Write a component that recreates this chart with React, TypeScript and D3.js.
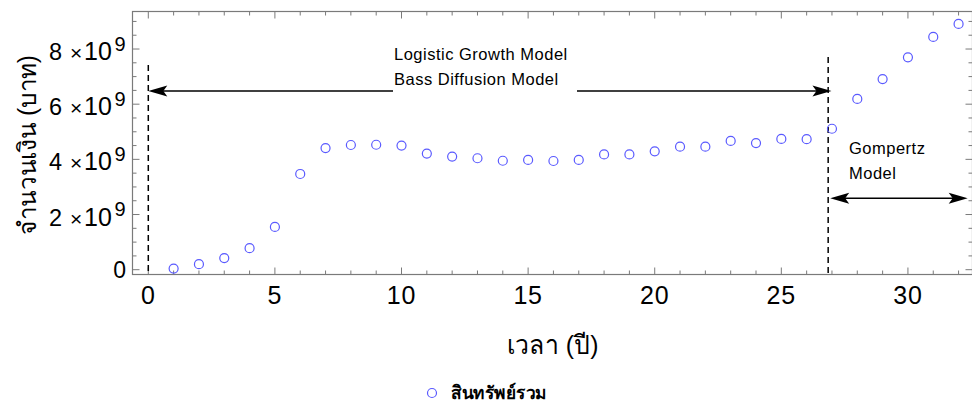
import React from 'react';
import * as d3 from 'd3';

// ---- data ----
const years = [1, 2, 3, 4, 5, 6, 7, 8, 9, 10, 11, 12, 13, 14, 15, 16, 17, 18, 19, 20, 21, 22, 23, 24, 25, 26, 27, 28, 29, 30, 31, 32];
// total assets, in units of 10^9 baht
const totalAssets = [0.04, 0.2, 0.42, 0.78, 1.55, 3.47, 4.41, 4.52, 4.53, 4.5, 4.21, 4.1, 4.04, 3.95, 3.98, 3.94, 3.98, 4.18, 4.18, 4.29, 4.46, 4.46, 4.67, 4.59, 4.74, 4.73, 5.11, 6.19, 6.91, 7.7, 8.44, 8.91];
const xTicks = [0, 5, 10, 15, 20, 25, 30];
const yTicks = [0, 2, 4, 6, 8];
const seriesName = 'สินทรัพย์รวม';
const xLabel = 'เวลา (ปี)';
const yLabel = 'จำนวนเงิน (บาท)';
const topModelLabels = ['Logistic Growth Model', 'Bass Diffusion Model'];
const rightModelLabels = ['Gompertz', 'Model'];
const boundaries = [0, 26.85];
const boundaryTops = [7.42, 7.71];

const W = 972;
const H = 402;
const L = 132.5, R = 972.5, T = 11.5, B = 274.5;
const FONT = '"Liberation Sans", Arial, sans-serif';

function arrowHead(x: number, y: number, dir: number) {
  const len = 19, half = 5.5, notch = 4;
  return `M${x},${y} L${x - dir * len},${y - half} L${x - dir * (len - notch)},${y} L${x - dir * len},${y + half} Z`;
}

export default function App() {
  const x = d3.scaleLinear().domain([-0.624, 32.55]).range([L, R]);
  const y = d3.scaleLinear().domain([-0.174, 9.36]).range([B, T]);
  const xMinor = d3.range(0, 33, 1);
  const yMinor = d3.range(0, 9.5, 0.5);
  const frame = '#7a7a7a';

  const arrowY = y(6.48);
  const a1 = x(0), a2 = x(26.98);
  const gY = y(2.59);
  const g1 = x(26.93), g2 = x(32.36);
  const E = 126; // right edge of y tick labels

  return (
    <div style={{ position: 'fixed', left: 0, top: 0 }}>
      <svg width={W} height={H} style={{ display: 'block', background: '#fff' }}>
        {/* frame */}
        <rect x={L} y={T} width={R - L} height={B - T} fill="none" stroke={frame} strokeWidth={1.2} />
        {/* ticks */}
        {xMinor.map((v) => {
          const major = v % 5 === 0;
          const len = major ? 7 : 4;
          return (
            <g key={'xt' + v} stroke={frame} strokeWidth={1}>
              <line x1={x(v)} x2={x(v)} y1={B} y2={B - len} />
              <line x1={x(v)} x2={x(v)} y1={T} y2={T + len} />
            </g>
          );
        })}
        {yMinor.map((v) => {
          const major = Math.abs(v % 2) < 1e-9;
          const len = major ? 7 : 4;
          return (
            <g key={'yt' + v} stroke={frame} strokeWidth={1}>
              <line x1={L} x2={L + len} y1={y(v)} y2={y(v)} />
              <line x1={R} x2={R - len} y1={y(v)} y2={y(v)} />
            </g>
          );
        })}
        {/* x tick labels */}
        {xTicks.map((v) => (
          <text key={'xl' + v} x={x(v)} y={303.5} textAnchor="middle" fontFamily={FONT} fontSize={25} letterSpacing={0.8} fill="#000">
            {v}
          </text>
        ))}
        {/* y tick labels */}
        {yTicks.map((v) =>
          v === 0 ? (
            <text key={'yl' + v} x={E} y={y(v) + 8.3} textAnchor="end" fontFamily={FONT} fontSize={23} fill="#000">0</text>
          ) : (
            <text key={'yl' + v} y={y(v) + 11} fontFamily={FONT} fill="#000">
              <tspan x={E - 77} fontSize={23.5}>{v}</tspan>
              <tspan x={E - 56} fontSize={21}>×</tspan>
              <tspan x={E - 42} fontSize={25}>10</tspan>
              <tspan x={E - 11.5} dy={-9.3} fontSize={20}>9</tspan>
            </text>
          )
        )}
        {/* axis labels */}
        <text x={(L + R) / 2} y={354} textAnchor="middle" fontFamily={FONT} fontSize={26} textLength={92} lengthAdjust="spacingAndGlyphs" fill="#000">{xLabel}</text>
        <text transform={`translate(36,145) rotate(-90)`} textAnchor="middle" fontFamily={FONT} fontSize={25} textLength={180} lengthAdjust="spacingAndGlyphs" fill="#000">{yLabel}</text>

        {/* boundary dashed lines */}
        {boundaries.map((b, i) => (
          <line key={'b' + i} x1={x(b)} x2={x(b)} y1={y(boundaryTops[i])} y2={B} stroke="#000" strokeWidth={1.5} strokeDasharray="6,4" />
        ))}

        {/* top double arrow */}
        <line x1={a1 + 14} x2={a2 - 14} y1={arrowY} y2={arrowY} stroke="#000" strokeWidth={1.4} />
        <path d={arrowHead(a1, arrowY, -1)} fill="#000" />
        <path d={arrowHead(a2, arrowY, 1)} fill="#000" />
        <rect x={393} y={40} width={184} height={53} fill="#fff" />
        {topModelLabels.map((t, i) => (
          <text key={'tm' + i} x={394} y={60 + i * 25} fontFamily={FONT} fontSize={16.5} letterSpacing={0.5} fill="#000">{t}</text>
        ))}

        {/* Gompertz double arrow */}
        <line x1={g1 + 14} x2={g2 - 14} y1={gY} y2={gY} stroke="#000" strokeWidth={1.4} />
        <path d={arrowHead(g1, gY, -1)} fill="#000" />
        <path d={arrowHead(g2, gY, 1)} fill="#000" />
        {rightModelLabels.map((t, i) => (
          <text key={'gm' + i} x={849} y={153.5 + i * 25.5} fontFamily={FONT} fontSize={16.5} letterSpacing={0.5} fill="#000">{t}</text>
        ))}

        {/* data points */}
        {years.map((yr, i) => (
          <circle key={'p' + yr} cx={x(yr)} cy={y(totalAssets[i])} r={4.5} fill="none" stroke="#5a5aff" strokeWidth={1.2} />
        ))}

        {/* legend */}
        <circle cx={432} cy={393} r={4.5} fill="none" stroke="#5a5aff" strokeWidth={1.2} />
        <text x={451} y={399} fontFamily={FONT} fontSize={18} fontWeight="bold" textLength={96} lengthAdjust="spacingAndGlyphs" fill="#000">{seriesName}</text>
      </svg>
    </div>
  );
}
